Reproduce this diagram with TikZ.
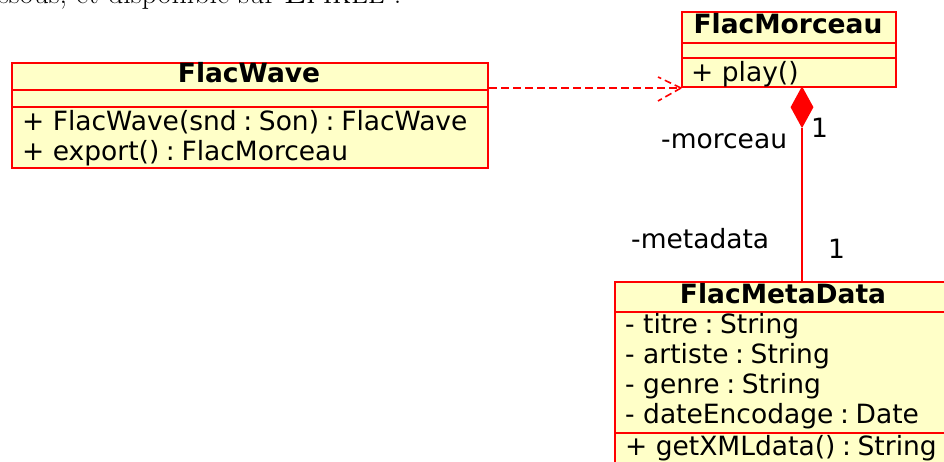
\documentclass[tikz,border=0pt]{standalone}
\usepackage{fontspec}
\newfontfamily\umlfont{DejaVu Sans}
\usetikzlibrary{shapes.geometric}
\definecolor{umlred}{RGB}{255,0,0}
\definecolor{umlfill}{RGB}{255,255,200}
\newcommand\umlcolon{\hspace{0.25em}:\hspace{0.25em}}
\tikzset{
  umlbox/.style={draw=umlred, fill=umlfill, line width=2pt, inner sep=0pt, anchor=north west},
  sepline/.style={draw=umlred, line width=2pt},
  umltext/.style={font=\umlfont\fontsize{26.5}{30}\selectfont, inner sep=0pt, anchor=base west, text=black},
  umltitle/.style={font=\umlfont\bfseries\fontsize{26.5}{30}\selectfont, inner sep=0pt, anchor=base, text=black},
  deparrow/.style={draw=umlred, line width=1.6pt, dash pattern=on 8pt off 4pt},
  assoc/.style={draw=umlred, line width=2pt},
}
\begin{document}
\begin{tikzpicture}[x=1pt,y=-1pt]
\useasboundingbox (0,0) rectangle (944,461);
\clip (0,0) rectangle (944,461);
% cut-off text line at the top
\node[font=\fontsize{30}{36}\selectfont, inner sep=0pt, anchor=base west] (note) at (-2,3) {ssous, et disponible sur \textsc{Epikee} .};
% FlacWave
\node[umlbox, minimum width=476pt, minimum height=105pt] (wave) at (11,62) {};
\draw[sepline] (wave.west |- 0,90) -- (wave.east |- 0,90);
\draw[sepline] (wave.west |- 0,106.5) -- (wave.east |- 0,106.5);
\node[umltitle] (wavet) at (249,82) {FlacWave};
\node[umltext] (wavem1) at (22,130) {+ FlacWave(snd\umlcolon Son)\umlcolon FlacWave};
\node[umltext] (wavem2) at (22,160) {+ export()\umlcolon FlacMorceau};
% FlacMorceau
\node[umlbox, minimum width=214pt, minimum height=75pt] (morceau) at (681,11) {};
\draw[sepline] (morceau.west |- 0,42.5) -- (morceau.east |- 0,42.5);
\draw[sepline] (morceau.west |- 0,57.5) -- (morceau.east |- 0,57.5);
\node[umltitle] (morceaut) at (788,33.5) {FlacMorceau};
\node[umltext] (morceaum1) at (691,81) {+ play()};
% FlacMetaData
\node[umlbox, minimum width=338pt, minimum height=200pt] (meta) at (614,281) {};
\draw[sepline] (meta.west |- 0,311.5) -- (meta.east |- 0,311.5);
\draw[sepline] (meta.west |- 0,433) -- (meta.east |- 0,433);
\node[umltitle] (metat) at (783,303.5) {FlacMetaData};
\node[umltext] (metaa1) at (625,333.5) {- titre\umlcolon String};
\node[umltext] (metaa2) at (625,363.5) {- artiste\umlcolon String};
\node[umltext] (metaa3) at (625,393.5) {- genre\umlcolon String};
\node[umltext] (metaa4) at (625,423.5) {- dateEncodage\umlcolon Date};
\node[umltext] (metam1) at (625,455) {+ getXMLdata()\umlcolon String};
% dependency
\draw[deparrow] (wave.north east |- morceau.south west) -- (morceau.south west);
\draw[deparrow, dash pattern=on 7pt off 4pt] (morceau.south west) -- ++(-23,-11);
\draw[deparrow, dash pattern=on 7pt off 4pt] (morceau.south west) -- ++(-23,13);
% composition
\node[diamond, fill=umlred, minimum width=23pt, minimum height=42pt, inner sep=0pt, anchor=north] (comp) at (802,86) {};
\draw[assoc] (comp.south) -- (comp.south |- meta.north);
\node[umltext] (lmorceau) at (661,148) {-morceau};
\node[umltext] (lm1) at (811,137) {1};
\node[umltext] (lmetadata) at (631,248) {-metadata};
\node[umltext] (lm2) at (828,258) {1};
\end{tikzpicture}
\end{document}
